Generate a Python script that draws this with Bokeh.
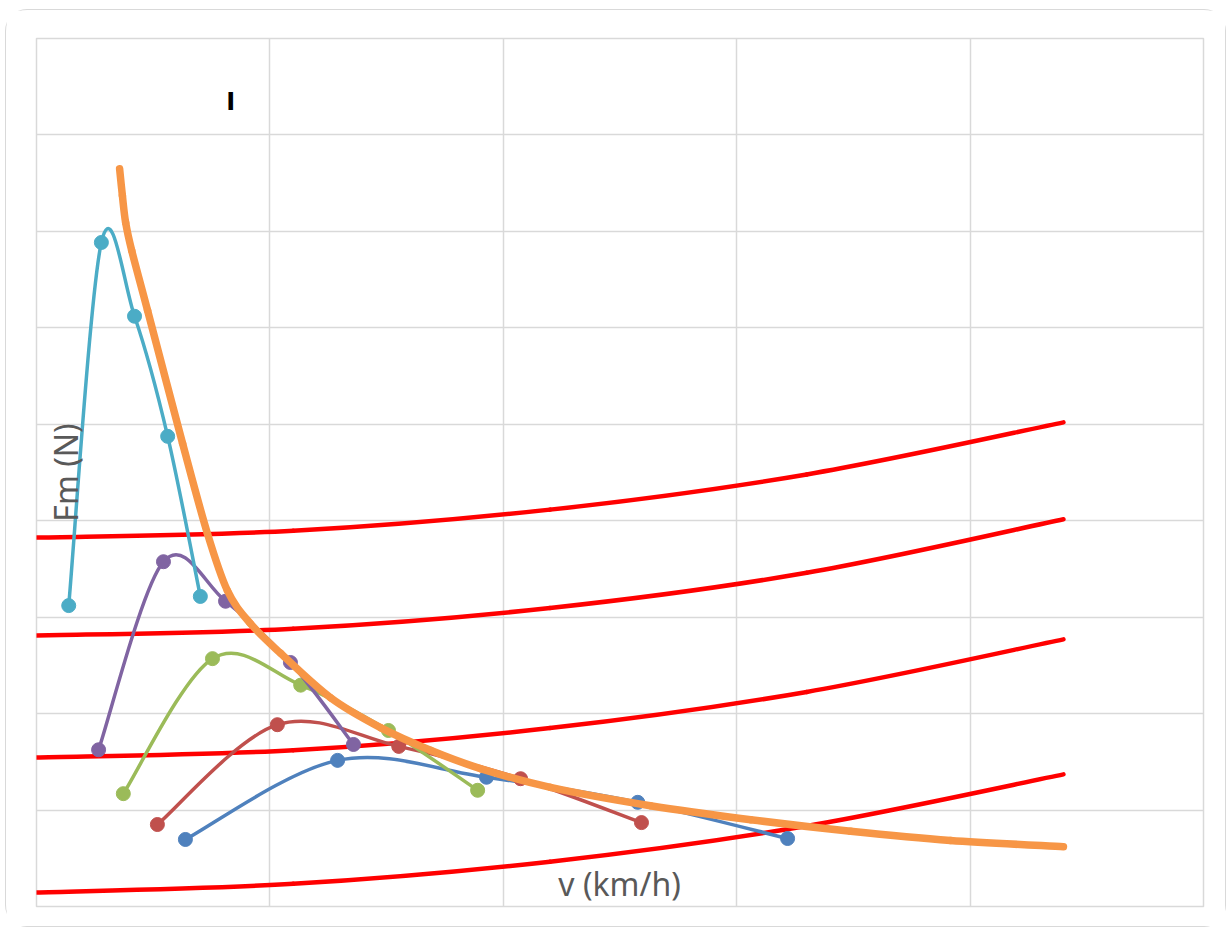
import math
from bokeh.plotting import figure
from bokeh.models import Range1d, FixedTicker, Label
from bokeh.embed import file_html
from bokeh.resources import INLINE

# ---- data ----
cyan_x = [6.9, 13.9, 21.0, 28.1, 35.1]
cyan_y = [624, 1377, 1224, 975, 643]
purple_x = [13.3, 27.2, 40.5, 54.4, 67.9]
purple_y = [325, 715, 633, 506, 336]
green_x = [18.6, 37.7, 56.6, 75.4, 94.5]
green_y = [234, 514, 459, 365, 241]
red_x = [25.9, 51.6, 77.6, 103.7, 129.6]
red_y = [170, 377, 332, 265, 174]
blue_x = [31.9, 64.5, 96.4, 128.8, 160.9]
blue_y = [139, 303, 268, 216, 141]

orange_x = [17.8, 18.4, 19.1, 20.4, 23.8, 31.3, 36.6, 40.9, 45.8, 52.3, 63.0,
            73.7, 84.4, 95.1, 110.1, 131.5, 153.0, 174.4, 195.8, 220.0]
orange_y = [1530, 1474, 1418, 1360, 1236, 960, 774, 655, 587, 525, 433,
            371, 324, 286, 247, 209, 180, 156, 137, 124]

res_x = [0, 55, 110, 165, 220]
res1_y = [765, 779, 823, 896, 1004]
res2_y = [562, 576, 619, 692, 803]
res3_y = [309, 324, 370, 445, 554]
res4_y = [29, 47, 93, 167, 274]

x_ticks = [0, 50, 100, 150, 200, 250]
y_ticks = [0, 200, 400, 600, 800, 1000, 1200, 1400, 1600, 1800]

title_text = "I"
x_label = "v (km/h)"
y_label = "Fm (N)"

# ---- figure ----
p = figure(width=1221, height=918, output_backend="svg", toolbar_location=None,
           x_range=Range1d(0, 250), y_range=Range1d(0, 1800),
           min_border_left=30, min_border_top=28, min_border_right=24,
           min_border_bottom=22)
p.styles = {"border": "1.5px solid #d9d9d9", "border-radius": "22px",
            "margin-left": "5px", "margin-top": "9px"}
p.xaxis.visible = False
p.yaxis.visible = False
p.xgrid.ticker = FixedTicker(ticks=x_ticks)
p.ygrid.ticker = FixedTicker(ticks=y_ticks)
p.xgrid.grid_line_color = "#d9d9d9"
p.ygrid.grid_line_color = "#d9d9d9"
p.xgrid.grid_line_width = 1.5
p.ygrid.grid_line_width = 1.5
p.outline_line_color = "#d9d9d9"
p.outline_line_width = 1.5
p.background_fill_color = "white"
p.border_fill_color = "white"


def smooth(xs, ys, color, width):
    n = len(xs)
    x0, y0, x1, y1, cx0, cy0, cx1, cy1 = [], [], [], [], [], [], [], []
    for i in range(n - 1):
        pa = (xs[i - 1], ys[i - 1]) if i > 0 else (xs[i], ys[i])
        pb = (xs[i], ys[i])
        pc = (xs[i + 1], ys[i + 1])
        pd = (xs[i + 2], ys[i + 2]) if i + 2 < n else (xs[i + 1], ys[i + 1])
        x0.append(pb[0]); y0.append(pb[1])
        x1.append(pc[0]); y1.append(pc[1])
        cx0.append(pb[0] + (pc[0] - pa[0]) / 6.0)
        cy0.append(pb[1] + (pc[1] - pa[1]) / 6.0)
        cx1.append(pc[0] - (pd[0] - pb[0]) / 6.0)
        cy1.append(pc[1] - (pd[1] - pb[1]) / 6.0)
    p.bezier(x0=x0, y0=y0, x1=x1, y1=y1, cx0=cx0, cy0=cy0, cx1=cx1, cy1=cy1,
             line_color=color, line_width=width, line_cap="round")


for ry in (res1_y, res2_y, res3_y, res4_y):
    smooth(res_x, ry, "#FF0000", 4.5)

series = [
    (blue_x, blue_y, "#4F81BD"),
    (red_x, red_y, "#C0504D"),
    (green_x, green_y, "#9BBB59"),
    (purple_x, purple_y, "#8064A2"),
    (cyan_x, cyan_y, "#4BACC6"),
]
for sx, sy, c in series:
    smooth(sx, sy, c, 3.5)
    p.scatter(sx, sy, size=14, fill_color=c, line_color=c)

smooth(orange_x, orange_y, "#F79646", 7.5)

p.add_layout(Label(x=41.6, y=1669, text=title_text, text_align="center",
                   text_baseline="middle", text_font="DejaVu Sans",
                   text_font_size="24px", text_font_style="bold",
                   text_color="black"))
p.add_layout(Label(x=124.9, y=48, text=x_label, text_align="center",
                   text_baseline="middle", text_font="Noto Sans",
                   text_font_size="32px", text_color="#595959"))
p.add_layout(Label(x=6.3, y=900, text=y_label, text_align="center",
                   text_baseline="middle", text_font="Noto Sans",
                   text_font_size="32px", text_color="#595959",
                   angle=math.pi / 2))

open("out.html", "w").write(file_html(p, INLINE))
